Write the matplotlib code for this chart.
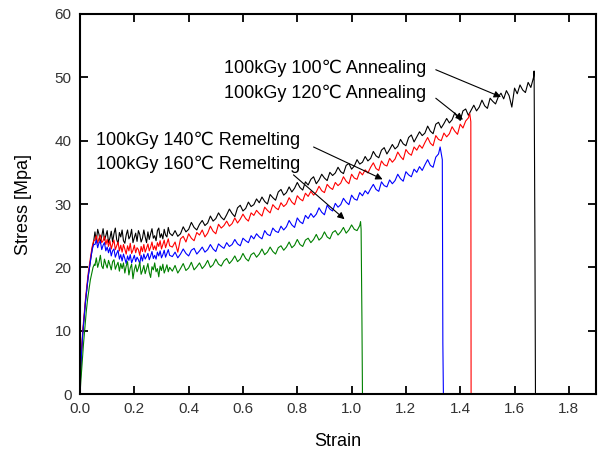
import numpy as np
import matplotlib.pyplot as plt

plt.rcParams['font.family'] = ['Liberation Sans', 'DejaVu Sans']

# early rise (strain, stress)
rise_strain = [0.0, 0.002, 0.005, 0.01, 0.015, 0.02, 0.025, 0.03, 0.035, 0.04, 0.045, 0.05]
green_rise_strain = [0.0, 0.003, 0.008, 0.013, 0.018, 0.023, 0.028, 0.033, 0.038, 0.043, 0.048, 0.053]

black_rise = [0, 3, 6, 9.5, 12, 14.5, 16.5, 18.5, 20, 21.5, 23, 24]
red_rise = [0, 3.5, 6.5, 10, 12.5, 15, 17, 19, 20.5, 22, 23.3, 24.2]
blue_rise = [0, 3, 6, 9.5, 12, 14.5, 16.5, 18.5, 20, 21.5, 22.8, 23.6]
green_rise = [0, 2, 5, 8, 10.5, 13, 15, 16.5, 18, 19, 20, 20.5]

# dense yield region, every 0.005 strain from 0.055 to 0.33
black_yield = [
    25.6, 24.1, 26.0, 25.2, 23.8, 24.9, 26.1, 24.3, 25.0, 25.8,
    23.9, 24.6, 25.7, 24.0, 25.3, 26.2, 24.4, 23.7, 25.5, 24.8,
    25.9, 24.2, 23.8, 25.1, 25.9, 24.5, 24.9, 26.0, 23.9, 24.7,
    25.4, 24.1, 25.8, 25.2, 24.0, 24.6, 25.9, 24.8, 23.9, 25.6,
    24.4, 25.3, 26.1, 24.6, 25.0, 24.2, 25.8, 26.2, 24.7, 25.3,
    24.5, 26.0, 25.1, 24.8, 26.3, 25.4,
]
red_yield = [
    24.3, 25.0, 23.8, 24.6, 25.1, 23.9, 24.2, 24.9, 23.6, 24.4,
    23.3, 24.2, 22.9, 23.7, 24.3, 22.8, 23.4, 24.0, 22.6, 23.5,
    22.4, 23.6, 22.9, 22.1, 23.4, 22.6, 23.8, 22.2, 22.7, 23.5,
    22.3, 23.1, 22.8, 21.9, 23.3, 22.5, 23.6, 22.4, 23.0, 23.7,
    22.6, 23.2, 24.0, 22.8, 23.4, 22.7, 23.9, 23.3, 24.2, 22.9,
    23.6, 24.3, 23.1, 23.8, 24.5, 23.4,
]
blue_yield = [
    23.6, 24.3, 23.1, 23.9, 24.1, 22.8, 23.5, 23.9, 22.6, 23.2,
    22.3, 23.1, 21.8, 22.6, 22.9, 21.6, 22.2, 22.7, 21.3, 22.0,
    21.0, 22.1, 21.4, 20.6, 21.8, 21.1, 22.0, 20.7, 21.3, 21.9,
    20.9, 21.6, 21.2, 20.6, 21.9, 21.0, 22.1, 21.3, 21.7, 22.2,
    21.2, 21.8, 22.5, 21.4, 21.9, 21.3, 22.4, 21.8, 22.6, 21.5,
    22.0, 22.7, 21.6, 22.2, 22.8, 21.9,
]
green_yield = [
    20.3, 21.5, 20.0, 20.8, 21.9, 20.2, 19.8, 21.3, 20.5, 19.9,
    21.1, 20.4, 19.6, 20.9, 21.2, 19.7, 20.3, 20.8, 19.4, 20.6,
    19.8, 20.7, 19.1, 20.2, 20.9, 18.8, 19.9, 20.5, 18.2, 19.6,
    20.4, 19.3, 19.9, 20.8, 18.9, 19.5, 20.3, 19.0, 19.8, 20.6,
    19.2, 18.4, 20.1, 19.6, 20.7, 19.3, 19.8, 18.5, 20.2, 19.5,
    20.5, 19.1, 19.7, 20.4, 19.3, 20.0,
]

# hardening region, every 0.01 strain from 0.34
black_body = [
    25.0, 25.8, 24.9, 25.3, 26.4, 25.6, 26.0, 27.1, 26.3, 25.9,
    26.8, 27.4, 26.6, 27.0, 28.1, 27.3, 27.7, 28.6, 27.9, 27.5,
    28.3, 29.2, 28.5, 28.0, 29.4, 29.8, 28.9, 29.3, 30.3, 29.6,
    29.9, 30.8, 30.2, 31.1, 30.4, 30.0, 31.5, 31.0, 30.6, 31.9,
    32.3, 31.4, 31.8, 32.7, 31.9, 32.5, 33.4, 32.6, 32.2, 33.5,
    33.0, 33.9, 34.3, 33.2, 33.8, 34.7, 34.1, 33.7, 35.0, 34.5,
    34.9, 35.8, 35.1, 34.8, 36.1, 36.4, 35.5, 36.0, 37.0, 36.3,
    36.6, 37.5, 36.8, 37.2, 38.3, 37.6, 37.3, 38.5, 38.9, 37.9,
    38.6, 39.4, 38.7, 39.1, 40.2, 39.5, 39.2, 40.5, 40.9, 39.8,
    40.6, 41.4, 40.8, 41.2, 42.3, 41.5, 41.1, 42.6, 42.9, 42.0,
    42.7, 43.5, 42.8, 43.3, 44.4, 43.6, 43.2, 44.7, 45.0, 44.0,
    44.8, 45.6, 44.7, 45.3, 46.4, 45.5, 45.1, 46.7, 46.2, 45.8,
    46.9, 47.5, 46.6, 47.9, 47.1, 45.3, 48.3, 47.4, 48.8, 48.0,
    47.6, 49.2, 48.4, 50.0,
]
red_body = [
    23.2, 24.0, 22.4, 24.5, 24.9, 24.0, 25.3, 24.6, 24.2, 25.5,
    25.1, 25.9, 24.8, 25.4, 26.5, 25.7, 25.3, 26.8, 26.2, 26.6,
    27.3, 26.5, 26.9, 27.8, 27.0, 27.6, 28.4, 27.7, 27.3, 28.6,
    28.2, 29.0, 28.5, 28.1, 29.5, 29.0, 28.6, 29.9, 29.4, 29.1,
    30.2, 29.6, 30.0, 31.0, 30.3, 29.9, 31.3, 30.8, 30.5, 31.7,
    31.2, 32.0, 31.4, 31.9, 32.8, 32.1, 31.8, 33.1, 32.6, 32.3,
    33.4, 32.9, 33.3, 34.3, 33.6, 33.2, 34.7, 34.1, 33.9, 35.1,
    34.6, 35.4, 34.9, 35.8, 36.5, 35.6, 35.3, 36.8, 36.2, 36.0,
    37.2, 36.6, 37.1, 38.2, 37.5, 37.0, 38.6, 38.0, 37.7, 39.0,
    38.5, 39.3, 38.8, 39.7, 40.5, 39.6, 39.2, 40.8, 40.2, 40.0,
    41.2, 40.6, 41.1, 42.2, 41.5, 41.0, 42.6, 42.0, 43.1, 43.6,
]
blue_body = [
    21.7, 22.4, 21.5, 22.1, 22.9, 22.2, 21.8, 22.7, 23.0, 22.1,
    22.6, 23.2, 22.4, 22.8, 23.6, 22.9, 22.5, 23.7, 23.3, 23.0,
    23.9, 23.3, 23.6, 24.4, 23.7, 23.4, 24.6, 24.2, 23.9, 25.0,
    24.5, 25.3, 24.8, 24.5, 25.8, 25.2, 25.0, 26.2, 25.7, 25.5,
    26.5, 25.9, 26.4, 27.4, 26.7, 26.3, 27.8, 27.2, 26.9, 28.2,
    27.7, 28.5, 27.9, 28.4, 29.4, 28.7, 28.3, 29.8, 29.2, 28.9,
    30.1, 29.5, 29.9, 30.9, 30.3, 29.9, 31.4, 30.8, 30.6, 31.8,
    31.3, 32.1, 31.6, 32.4, 33.1, 32.3, 32.0, 33.5, 32.9, 32.7,
    33.8, 33.2, 33.7, 34.7, 34.0, 33.6, 35.1, 34.6, 34.3, 35.5,
    35.0, 35.9, 35.3, 36.2, 37.0, 36.1, 35.8, 37.4, 37.9,
]
green_body = [
    19.4, 20.3, 19.1, 19.8, 20.6, 19.5, 19.9, 20.8, 19.6, 20.1,
    20.7, 19.8, 20.3, 21.1, 20.0, 20.4, 21.3, 20.5, 20.2, 21.0,
    21.4, 20.6, 21.1, 21.8, 20.9, 21.3, 22.2, 21.4, 21.0, 22.0,
    22.3, 21.6, 22.1, 22.9, 22.0, 22.4, 23.2, 22.5, 22.1, 23.1,
    23.4, 22.7, 23.2, 24.0, 23.1, 23.5, 24.4, 23.6, 23.3, 24.3,
    24.6, 23.9, 24.4, 25.2, 24.3, 24.7, 25.6, 24.8, 24.5, 25.5,
    25.8, 25.1, 25.6, 26.3, 25.4, 25.9, 26.7, 26.0, 25.8, 26.6,
]

# final peak and fracture drop
black_end_strain = [1.672, 1.675, 1.677]
black_end = [51.0, 24.0, 0]
red_end_strain = [1.435, 1.439, 1.440]
red_end = [44.3, 43.0, 0]
blue_end_strain = [1.326, 1.334, 1.336, 1.338]
blue_end = [39.0, 37.0, 8.0, 0]
green_end_strain = [1.033, 1.035, 1.038, 1.040]
green_end = [27.2, 26.0, 12.0, 0]

labels = ["100kGy 100\u2103 Annealing", "100kGy 120\u2103 Annealing",
          "100kGy 140\u2103 Remelting", "100kGy 160\u2103 Remelting"]


def build(rs, r, yld, body, es, e):
    ys = 0.055 + 0.005 * np.arange(len(yld))
    bs = 0.34 + 0.01 * np.arange(len(body))
    x = np.concatenate([rs, ys, bs, es])
    y = np.concatenate([r, yld, body, e])
    return x, y


fig = plt.figure(figsize=(5.98, 4.5), dpi=100)
ax = fig.add_axes([0.1338, 0.1244, 0.8629, 0.8445])

series = [
    (rise_strain, black_rise, black_yield, black_body, black_end_strain, black_end, 'black'),
    (rise_strain, red_rise, red_yield, red_body, red_end_strain, red_end, 'red'),
    (rise_strain, blue_rise, blue_yield, blue_body, blue_end_strain, blue_end, 'blue'),
    (green_rise_strain, green_rise, green_yield, green_body, green_end_strain, green_end, 'green'),
]
for rs, r, yld, body, es, e, c in series:
    x, y = build(rs, r, yld, body, es, e)
    ax.plot(x, y, color=c, lw=0.8)

ax.set_xlim(0, 1.9)
ax.set_ylim(0, 60)
ax.set_xticks(np.arange(0, 1.81, 0.2))
ax.set_xticklabels(["%.1f" % v for v in np.arange(0, 1.81, 0.2)])
ax.set_yticks(np.arange(0, 61, 10))
ax.tick_params(direction='in', length=6, width=1.3, top=True, right=True,
               labelsize=11, labelcolor='#333333', pad=6)
for s in ax.spines.values():
    s.set_linewidth(1.5)

ax.set_xlabel("Strain", fontsize=13, labelpad=12)
ax.set_ylabel("Stress [Mpa]", fontsize=13, labelpad=16)

# annotations
text_pos = [(0.531, 51.5), (0.531, 47.4), (0.059, 40.1), (0.059, 36.3)]
arrow_tail = [(1.31, 51.2), (1.31, 46.7), (0.86, 39.0), (0.786, 34.6)]
arrow_head = [(1.55, 46.9), (1.41, 43.3), (1.114, 33.9), (0.974, 27.6)]
for lab, tp, t, h in zip(labels, text_pos, arrow_tail, arrow_head):
    ax.text(tp[0], tp[1], lab, fontsize=13, va='center', ha='left')
    ax.annotate('', xy=h, xytext=t,
                arrowprops=dict(arrowstyle='-|>', color='black', lw=0.8,
                                mutation_scale=10, shrinkA=0, shrinkB=0))

fig.savefig("out.png", dpi=100)
